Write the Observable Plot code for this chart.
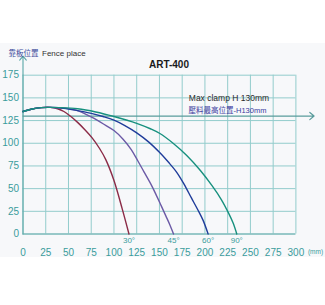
<!DOCTYPE html>
<html><head><meta charset="utf-8">
<script src="https://cdn.jsdelivr.net/npm/d3@7"></script>
<script src="https://cdn.jsdelivr.net/npm/@observablehq/plot@0.6"></script>
<style>body{margin:0;background:#fff}#chart svg{display:block}</style>
</head><body><div id="chart"></div>
<script>
const xTicks = [0,25,50,75,100,125,150,175,200,225,250,275,300];
const yTicks = [0,25,50,75,100,125,150,175];
const angles = ["30°","45°","60°","90°"];
const x30 = [0,10,20,30,38,45,52,60,68,76,84,91,100,109,116.5];
const y30 = [135,137.8,139.3,139.5,138,135,130,123,115,106,94.5,82,59,28,0];
const x45 = [0,10,20,30,40,50,58,66,76,88,100,110,119,126,133,140,146,152,157,161.5,165.5];
const y45 = [135,137.8,139.3,139.5,139,138.2,136.5,133.5,128.5,121.5,114,104.5,93,81,68.5,56,44,31,20,10,0];
const x60 = [0,10,20,30,45,60,75,88,100,112,125,138,150,160,169,177,185,192,198,203.5];
const y60 = [135,137.8,139.3,139.5,138.5,136,133,129.5,125.5,119.5,111.5,101.5,90,79,68,55,40,27,15,0];
const x90 = [0,10,20,30,40,60,80,100,125,140,150,165,180,195,208,218,226,231,235];
const y90 = [135,137.8,139.3,139.5,139.3,138,134.5,129.5,122,116,111,100,86.5,70,53,38,23,12,0];
const maxClamp = 130;
const fenceAxisTop = 196;
const clampArrowEnd = 320;
const colors = ["#8b2b47","#6b5aa6","#1f3c9a","#17907e"];

const series = [
  {angle:"30°", xs:x30, ys:y30},
  {angle:"45°", xs:x45, ys:y45},
  {angle:"60°", xs:x60, ys:y60},
  {angle:"90°", xs:x90, ys:y90}
];
const rows = series.flatMap(s => s.xs.map((x,i) => ({angle:s.angle, x, y:s.ys[i]})));
const ends = series.map(s => ({angle:s.angle, x:s.xs[s.xs.length-1], y:0}));

const teal = "#3a9c9c";
const grid = "#93cccc";
const font = "Liberation Sans, Arial, 'Noto Sans CJK TC', sans-serif";

const plot = Plot.plot({
  width:325, height:305,
  marginLeft:22.5, marginRight:29.6, marginTop:74.7, marginBottom:71.5,
  x:{domain:[0,300], axis:null},
  y:{domain:[0,175], axis:null},
  color:{domain:angles, range:colors},
  style:{fontFamily:font, background:"linear-gradient(to bottom, #fff 0 43px, #f7f8fa 43px 257px, #fff 257px)"},
  marks:[
    Plot.ruleX(xTicks, {x:d=>d, y1:0, y2:175, stroke:grid, strokeWidth:1}),
    Plot.ruleY(yTicks, {y:d=>d, x1:0, x2:300, stroke:grid, strokeWidth:1}),
    Plot.ruleY([0], {y:d=>d, x1:0, x2:300, stroke:"#6aaeae", strokeWidth:1}),
    Plot.arrow([fenceAxisTop], {x1:0, x2:0, y1:0, y2:d=>d, stroke:"#5aa6a6", strokeWidth:1.1, headLength:7, headAngle:80}),
    Plot.arrow([maxClamp], {x1:0, x2:clampArrowEnd, y1:d=>d, y2:d=>d, stroke:"#5a9c9c", strokeWidth:1.2, headLength:7, headAngle:80}),
    Plot.line(rows, {x:"x", y:"y", z:"angle", stroke:"angle", curve:"catmull-rom", strokeWidth:1.4}),
    Plot.text(yTicks, {x:0, y:d=>d, text:d=>String(d), textAnchor:"end", dx:-4, fill:teal, fontSize:10}),
    Plot.text(xTicks, {x:d=>d, y:0, text:d=>String(d), dy:18.5, fill:teal, fontSize:10}),
    Plot.text(ends, {x:"x", y:"y", text:"angle", dy:6, fontSize:8, fill:teal}),
    Plot.text(["(mm)"], {frameAnchor:"bottom-right", dx:12, dy:19.5, textAnchor:"start", fontSize:6.5, fill:teal}),
    Plot.text(["ART-400"], {frameAnchor:"top", dx:9.5, dy:-14.7, fontSize:10, fontWeight:"bold", fill:"#1a1a1a"}),
    Plot.text(["靠板位置"], {frameAnchor:"top-left", dx:-14.5, dy:-24.7, textAnchor:"start", fontSize:7.5, fill:"#3c4a9a"}),
    Plot.text(["Fence place"], {frameAnchor:"top-left", dx:19, dy:-24.7, textAnchor:"start", fontSize:8, fill:"#333"}),
    Plot.text(["Max clamp H 130mm"], {frameAnchor:"top-left", dx:165.8, dy:19.6, textAnchor:"start", fontSize:8.5, fill:"#2a2a2a"}),
    Plot.text(["壓料最高位置-H130mm"], {frameAnchor:"top-left", dx:165.5, dy:32, textAnchor:"start", fontSize:7.5, fill:"#3a3aa0"})
  ]
});
document.getElementById("chart").appendChild(plot);
</script>
</body></html>
